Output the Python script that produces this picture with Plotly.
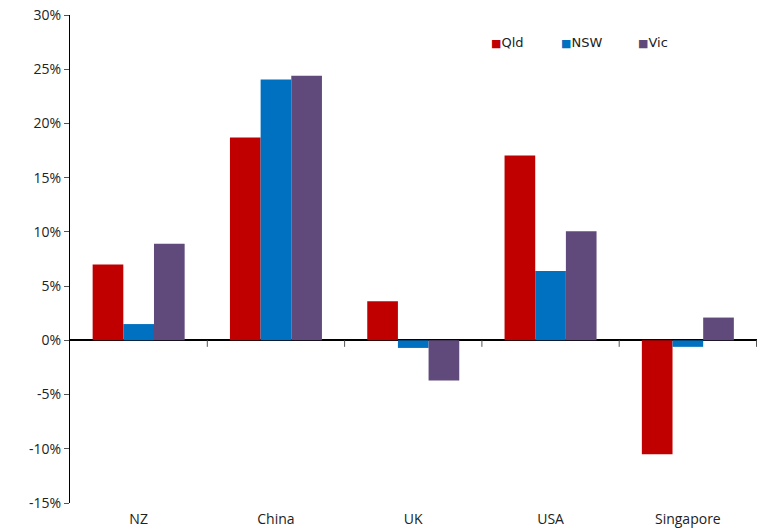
import plotly.graph_objects as go

categories = ["NZ", "China", "UK", "USA", "Singapore"]
qld = [7.0, 18.7, 3.6, 17.05, -10.5]
nsw = [1.5, 24.05, -0.7, 6.4, -0.6]
vic = [8.9, 24.4, -3.7, 10.05, 2.1]

series_names = ["Qld", "NSW", "Vic"]
series_values = [qld, nsw, vic]
series_colors = ["#C00000", "#0070C0", "#604A7B"]

y_ticks = [-15, -10, -5, 0, 5, 10, 15, 20, 25, 30]
y_tick_text = [f"{v}%" for v in y_ticks]

fig = go.Figure()
for name, vals, color in zip(series_names, series_values, series_colors):
    fig.add_trace(go.Bar(
        x=categories, y=vals, name=name, showlegend=False,
        marker=dict(color=color, line=dict(width=0)),
    ))

# category divider ticks along the zero line
shapes = []
for i in range(len(categories)):
    shapes.append(dict(type="line", xref="x", yref="y",
                       x0=i + 0.5, x1=i + 0.5, y0=0, y1=-0.6,
                       line=dict(color="#555", width=1)))

# compact key: small coloured square directly followed by the series name
key_x = [0.610, 0.712, 0.824]
annotations = []
for name, color, kx in zip(series_names, series_colors, key_x):
    annotations.append(dict(
        xref="paper", yref="paper", x=kx, y=0.943, xanchor="left", yanchor="middle",
        showarrow=False,
        text=f"<span style='color:{color};font-size:11px'>■</span>{name}",
        font=dict(family="DejaVu Sans", size=13, color="#222"),
    ))

fig.update_layout(
    width=759, height=532,
    margin=dict(l=70, r=2, t=15, b=29, autoexpand=False),
    paper_bgcolor="white", plot_bgcolor="white",
    barmode="group", bargap=0.33, bargroupgap=0,
    font=dict(family="Open Sans, sans-serif", size=14, color="#222"),
    showlegend=False,
    shapes=shapes,
    annotations=annotations,
    xaxis=dict(showline=False, ticks="", showgrid=False, zeroline=False,
               tickfont=dict(size=14), ticklabelstandoff=6),
    yaxis=dict(range=[-15, 30], tickvals=y_ticks, ticktext=y_tick_text,
               showline=True, linecolor="black", linewidth=1,
               ticks="outside", ticklen=5, tickcolor="#555",
               showgrid=False, zeroline=True, zerolinecolor="black", zerolinewidth=1.5,
               tickfont=dict(size=14)),
)

fig.write_html("out.html")
